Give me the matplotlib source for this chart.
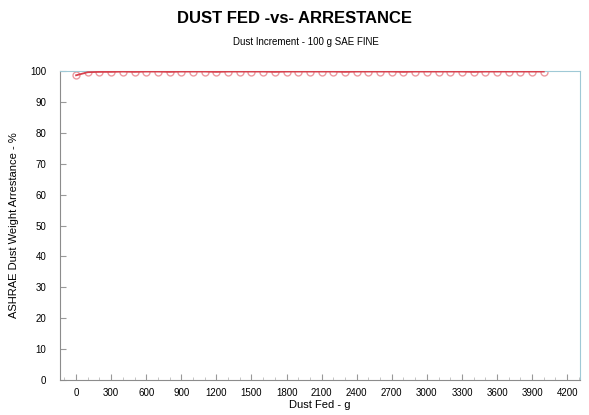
import numpy as np
import matplotlib
matplotlib.use("Agg")
import matplotlib.pyplot as plt
from matplotlib.ticker import MultipleLocator

plt.rcParams['font.family'] = ['Liberation Sans', 'DejaVu Sans']

# dust fed (g) and arrestance (%)
dust_fed = [0, 100, 200, 300, 400, 500, 600, 700, 800, 900, 1000,
            1100, 1200, 1300, 1400, 1500, 1600, 1700, 1800, 1900, 2000,
            2100, 2200, 2300, 2400, 2500, 2600, 2700, 2800, 2900, 3000,
            3100, 3200, 3300, 3400, 3500, 3600, 3700, 3800, 3900, 4000]
arrestance = [98.6, 99.6, 99.7, 99.7, 99.8, 99.7, 99.8, 99.8, 99.7, 99.8, 99.8,
              99.8, 99.7, 99.8, 99.8, 99.8, 99.8, 99.7, 99.8, 99.8, 99.8,
              99.8, 99.8, 99.7, 99.8, 99.8, 99.8, 99.8, 99.7, 99.8, 99.8,
              99.8, 99.8, 99.8, 99.7, 99.8, 99.8, 99.8, 99.8, 99.8, 99.8]
x_ticks = list(range(0, 4201, 300))
y_ticks = list(range(0, 101, 10))

fig = plt.figure(figsize=(5.89, 4.15), dpi=100)
ax = fig.add_axes([0.102, 0.084, 0.883, 0.745])

ax.plot(dust_fed, arrestance, color='#d8424e', lw=1.3, zorder=3)
ax.plot(dust_fed, arrestance, ls='none', marker='o', ms=5, mfc='none',
        mec='#ec9aa0', mew=1.0, zorder=2)

ax.set_xlim(-137, 4311)
ax.set_ylim(0, 100)
ax.set_xticks(x_ticks)
ax.set_yticks(y_ticks)
ax.xaxis.set_minor_locator(MultipleLocator(100))
ax.tick_params(axis='both', which='major', direction='in', length=4,
               labelsize=7, color='#999999')
ax.tick_params(axis='x', which='major', pad=6)
ax.tick_params(axis='y', which='major', pad=10)
ax.tick_params(axis='x', which='minor', direction='in', length=2, color='#bbbbbb')

for side in ['left', 'bottom']:
    ax.spines[side].set_color('#8c8c8c')
for side in ['top', 'right']:
    ax.spines[side].set_color('#9fc9d6')

ax.set_xlabel('Dust Fed - g', fontsize=8, labelpad=1)
ax.set_ylabel('ASHRAE Dust Weight Arrestance - %', fontsize=8, labelpad=8)

fig.text(0.5, 0.955, 'DUST FED -vs- ARRESTANCE', ha='center', va='center',
         fontsize=12, fontweight='bold')
fig.text(0.52, 0.898, 'Dust Increment - 100 g SAE FINE', ha='center', va='center',
         fontsize=7)

plt.savefig('out.png', dpi=100)
